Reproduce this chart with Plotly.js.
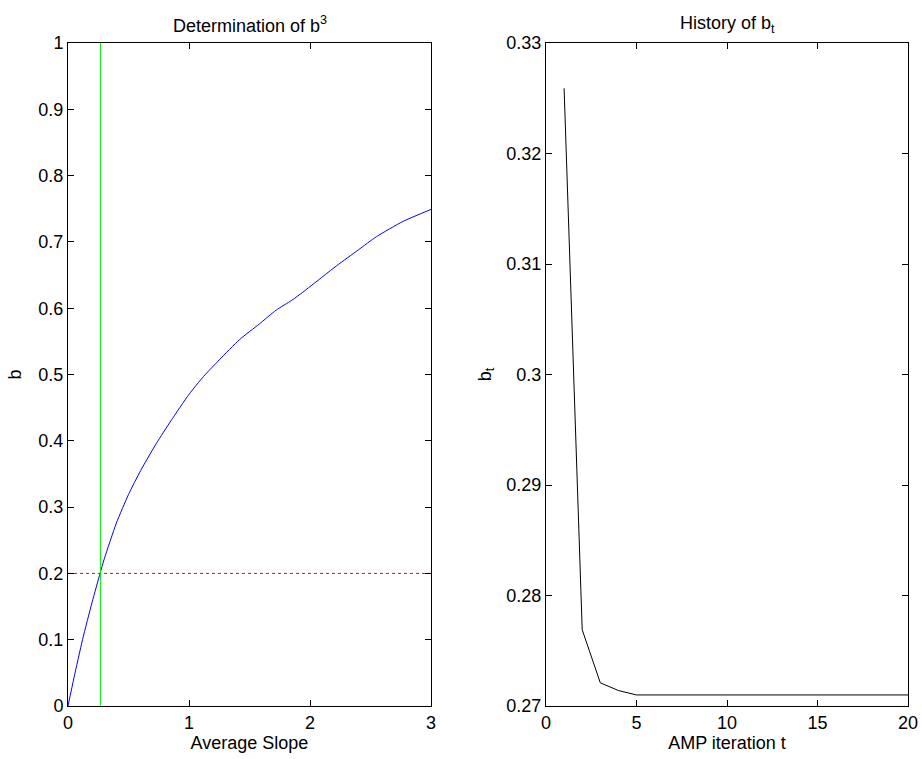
<!DOCTYPE html>
<html>
<head>
<meta charset="utf-8">
<script src="https://cdn.plot.ly/plotly-3.0.1.min.js"></script>
<style>html,body{margin:0;padding:0;background:#fff;}#chart{width:922px;height:759px;}</style>
</head>
<body>
<div id="chart"></div>
<script>
// Left panel: b as a function of average slope
const slopeX = [0, 0.05, 0.12, 0.2, 0.265, 0.3, 0.4, 0.5, 0.6, 0.73, 0.85, 1.0, 1.12, 1.25, 1.42, 1.58, 1.72, 1.85, 1.94, 2.08, 2.22, 2.4, 2.55, 2.77, 3.0];
const bValues = [0, 0.043, 0.1, 0.157, 0.2, 0.222, 0.276, 0.319, 0.355, 0.396, 0.43, 0.47, 0.497, 0.522, 0.553, 0.576, 0.597, 0.612, 0.624, 0.644, 0.664, 0.688, 0.708, 0.731, 0.749];
const targetB = 0.2;          // horizontal dotted line
const chosenSlope = 0.268;    // vertical green line
const slopeRange = [0, 3];
const bRange = [0, 1];

// Right panel: history of b_t
const iterT = [1,2,3,4,5,6,7,8,9,10,11,12,13,14,15,16,17,18,19,20];
const bT = [0.3259,0.2769,0.2721,0.2714,0.2710,0.2710,0.2710,0.2710,0.2710,0.2710,0.2710,0.2710,0.2710,0.2710,0.2710,0.2710,0.2710,0.2710,0.2710,0.2710];

const leftYTicks = [0,0.1,0.2,0.3,0.4,0.5,0.6,0.7,0.8,0.9,1];
const leftYText = ['0','0.1','0.2','0.3','0.4','0.5','0.6','0.7','0.8','0.9','1'];
const leftXTicks = [0,1,2,3];
const rightYTicks = [0.27,0.28,0.29,0.30,0.31,0.32,0.33];
const rightYText = ['0.27','0.28','0.29','0.3','0.31','0.32','0.33'];
const rightXTicks = [0,5,10,15,20];

const traces = [
  {x: slopeX, y: bValues, mode:'lines', line:{color:'#0000ff', width:1, shape:'spline', smoothing:0.6}, xaxis:'x', yaxis:'y'},
  {x: slopeRange, y: [targetB, targetB], mode:'lines', line:{color:'#ff0000', width:1, dash:'dot'}, xaxis:'x', yaxis:'y'},
  {x: [chosenSlope, chosenSlope], y: bRange, mode:'lines', line:{color:'#00ee00', width:1}, xaxis:'x', yaxis:'y'},
  {x: iterT, y: bT, mode:'lines', line:{color:'#000000', width:1}, xaxis:'x2', yaxis:'y2'}
];

const tickFont = {family:'Liberation Sans, Arial, Helvetica, sans-serif', size:18, color:'#000'};
const labFont = {family:'Liberation Sans, Arial, Helvetica, sans-serif', size:18, color:'#000'};
const axBase = {showline:true, linecolor:'#000', linewidth:1, mirror:'ticks', ticks:'inside', ticklen:6, tickcolor:'#000', showgrid:false, zeroline:false, tickfont:tickFont, fixedrange:true};

const yTop = 1 - 43/759, yBot = 1 - 706/759;

const layout = {
  width:922, height:759,
  margin:{l:0, r:0, t:0, b:0},
  paper_bgcolor:'#fff', plot_bgcolor:'#fff',
  showlegend:false,
  font: labFont,
  xaxis: Object.assign({}, axBase, {domain:[68/922, 431/922], range:slopeRange, tickvals:leftXTicks, ticktext:leftXTicks.map(String), anchor:'y', title:{text:'Average Slope', font:labFont, standoff:4}}),
  yaxis: Object.assign({}, axBase, {domain:[yBot, yTop], range:bRange, tickvals:leftYTicks, ticktext:leftYText, anchor:'x', title:{text:'b', font:labFont, standoff:12}}),
  xaxis2: Object.assign({}, axBase, {domain:[546/922, 908/922], range:[0,20], tickvals:rightXTicks, ticktext:rightXTicks.map(String), anchor:'y2', title:{text:'AMP iteration t', font:labFont, standoff:4}}),
  yaxis2: Object.assign({}, axBase, {domain:[yBot, yTop], range:[0.27,0.33], tickvals:rightYTicks, ticktext:rightYText, anchor:'x2', title:{text:'b<sub>t</sub>', font:labFont, standoff:10}}),
  annotations: [
    {text:'Determination of b<sup>3</sup>', xref:'paper', yref:'paper', x:(68+431)/2/922, y:1-24/759, xanchor:'center', yanchor:'middle', showarrow:false, font:labFont},
    {text:'History of b<sub>t</sub>', xref:'paper', yref:'paper', x:(546+908)/2/922, y:1-24/759, xanchor:'center', yanchor:'middle', showarrow:false, font:labFont}
  ]
};

Plotly.newPlot('chart', traces, layout, {staticPlot:true, displayModeBar:false});
</script>
</body>
</html>
